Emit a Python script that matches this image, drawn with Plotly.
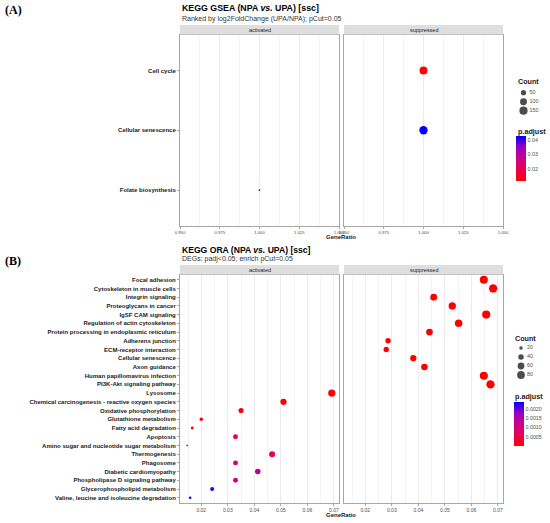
import numpy as np
import plotly.graph_objects as go

# === Donnees (A) KEGG GSEA ===
gsea_terms = ["Cell cycle", "Cellular senescence", "Folate biosynthesis"]
gsea_group = ["suppressed", "suppressed", "activated"]
gsea_ratio = [1.0, 1.0, 1.0]
gsea_count = [140, 155, 10]
gsea_padj = [0.0117, 0.0428, 0.0425]
gsea_count_breaks = [50, 100, 150]
gsea_padj_ticks = [0.02, 0.03, 0.04]

# === Donnees (B) KEGG ORA ===
ora_terms = [
    "Focal adhesion", "Cytoskeleton in muscle cells", "Integrin signaling",
    "Proteoglycans in cancer", "IgSF CAM signaling", "Regulation of actin cytoskeleton",
    "Protein processing in endoplasmic reticulum", "Adherens junction",
    "ECM-receptor interaction", "Cellular senescence", "Axon guidance",
    "Human papillomavirus infection", "PI3K-Akt signaling pathway",
    "Lysosome", "Chemical carcinogenesis - reactive oxygen species",
    "Oxidative phosphorylation", "Glutathione metabolism", "Fatty acid degradation",
    "Apoptosis", "Amino sugar and nucleotide sugar metabolism", "Thermogenesis",
    "Phagosome", "Diabetic cardiomyopathy", "Phospholipase D signaling pathway",
    "Glycerophospholipid metabolism", "Valine, leucine and isoleucine degradation",
]
ora_group = ["suppressed"] * 13 + ["activated"] * 13
ora_ratio = [0.0647, 0.0682, 0.0458, 0.0528, 0.0656, 0.0552, 0.0442, 0.0286, 0.0279,
             0.0381, 0.0423, 0.0647, 0.0672,
             0.0692, 0.0510, 0.0350, 0.0200, 0.0166, 0.0329, 0.0147, 0.0467,
             0.0329, 0.0413, 0.0329, 0.0241, 0.0158]
ora_count = [87, 92, 62, 71, 89, 75, 60, 39, 38, 51, 57, 87, 91,
             69, 51, 35, 20, 17, 33, 15, 47, 33, 41, 33, 24, 16]
ora_padj = [3e-9, 1e-8, 2e-7, 5e-8, 1e-9, 4e-8, 6e-7, 3e-6, 2e-6, 8e-6, 5e-6, 1e-8, 2e-8,
            2e-6, 1e-5, 1.2e-4, 8e-5, 1.5e-4, 5.5e-4, 3e-4, 6e-4,
            9e-4, 1.25e-3, 1.1e-3, 2.2e-3, 2.38e-3]
ora_count_breaks = [20, 40, 60, 80]
ora_padj_ticks = [0.0005, 0.0010, 0.0015, 0.0020]

facets = ["activated", "suppressed"]

# gradient rouge -> bleu (interpolation Lab comme ggplot)
colorscale = [[0, "#FF0000"], [0.25, "#E70050"], [0.5, "#C90089"],
              [0.75, "#9A00C3"], [1, "#0000FF"]]

W, H = 550, 523
def px(v):
    return v / W
def py(v):
    return 1 - v / H

def size_scale(counts, lo, hi, smin=1.8, smax=8.3):
    # equivalent de scale_size (aire) de ggplot
    c = np.asarray(counts, dtype=float)
    return smin + np.sqrt((c - lo) / (hi - lo)) * (smax - smin)

FONT = "Liberation Sans"
GRID = "#EBEBEB"
BORDER = "#A6A6A6"
STRIP_H = 9.5

fig = go.Figure()
layout = dict(width=W, height=H, margin=dict(l=0, r=0, t=0, b=0, autoexpand=False),
              paper_bgcolor="white", plot_bgcolor="white", showlegend=False,
              font=dict(family=FONT, color="#1A1A1A"))
annotations = []
shapes = []

def note(text, x, y, size, color="#1A1A1A", family=None, xanchor="left"):
    f = dict(size=size, color=color)
    if family:
        f["family"] = family
    annotations.append(dict(text=text, x=px(x), y=py(y), xref="paper", yref="paper",
                            xanchor=xanchor, yanchor="middle", showarrow=False, font=f))

def add_block(n0, terms_order, groups, ratios, counts, padj, ca, strip_top, y_bot,
              xr, dtick, minor_dt, tickfmt, xfont):
    lo, hi = min(counts), max(counts)
    sizes = size_scale(counts, lo, hi)
    panels = [(180, 339), (344, 503)]
    cat = terms_order[::-1]
    y_top = strip_top + STRIP_H
    for k, fac in enumerate(facets):
        n = n0 + k
        sx = "" if n == 1 else str(n)
        idx = [i for i, g in enumerate(groups) if g == fac]
        fig.add_trace(go.Scatter(
            x=[ratios[i] for i in idx], y=[terms_order[i] for i in idx],
            mode="markers", xaxis="x" + sx, yaxis="y" + sx,
            marker=dict(size=[sizes[i] for i in idx], color=[padj[i] for i in idx],
                        coloraxis=ca, line=dict(width=0), opacity=1),
            hoverinfo="x+y"))
        l, r = panels[k]
        layout["xaxis" + sx] = dict(domain=[px(l), px(r)], anchor="y" + sx,
                                    range=xr, dtick=dtick, tick0=0, tickformat=tickfmt,
                                    showline=True, mirror=True, linecolor=BORDER, linewidth=1,
                                    ticks="outside", ticklen=2, tickcolor=BORDER, tickwidth=0.6,
                                    tickfont=dict(size=xfont, color="#4D4D4D"),
                                    showgrid=True, gridcolor=GRID, gridwidth=0.8, zeroline=False,
                                    minor=dict(showgrid=True, gridcolor="#F4F4F4", gridwidth=0.5,
                                               dtick=minor_dt, tick0=0),
                                    fixedrange=True)
        ydict = dict(domain=[py(y_bot), py(y_top)], anchor="x" + sx,
                     type="category", categoryorder="array", categoryarray=cat,
                     range=[-0.6, len(cat) - 0.4], showgrid=False, zeroline=False,
                     showline=True, mirror=True, linecolor=BORDER, linewidth=1,
                     fixedrange=True)
        if k == 0:
            ydict.update(ticks="outside", ticklen=2, tickcolor=BORDER, tickwidth=0.6,
                         tickfont=dict(size=6, color="#1A1A1A", weight="bold"))
        else:
            ydict.update(showticklabels=False, ticks="",
                         matches="y" + ("" if n0 == 1 else str(n0)))
        layout["yaxis" + sx] = ydict
        # bandeau de facette
        shapes.append(dict(type="rect", xref="paper", yref="paper",
                           x0=px(l), x1=px(r), y0=py(y_top), y1=py(strip_top),
                           fillcolor="#DEDEDE", line=dict(width=0)))
        note(fac, (l + r) / 2, strip_top + STRIP_H / 2, 5.5, xanchor="center")
    note("<b>GeneRatio</b>", 341.5, y_bot + 11.5, 6, xanchor="center")
    return lo, hi

# --- (A) ---
gsea_lo, gsea_hi = add_block(1, gsea_terms, gsea_group, gsea_ratio, gsea_count, gsea_padj,
                             "coloraxis", 25, 226, [0.95, 1.05], 0.025, 0.0125, ".3f", 4.2)
# --- (B) ---
r_lo, r_hi = min(ora_ratio), max(ora_ratio)
pad = 0.05 * (r_hi - r_lo)
ora_lo, ora_hi = add_block(3, ora_terms, ora_group, ora_ratio, ora_count, ora_padj,
                           "coloraxis2", 265, 503, [r_lo - pad, r_hi + pad], 0.01, 0.005,
                           ".2f", 5.0)

def cbar(ytop, length, ticks, fmt, x):
    return dict(x=px(x), xanchor="left", y=py(ytop), yanchor="top",
                lenmode="pixels", len=length, thicknessmode="pixels", thickness=10,
                outlinewidth=0, xpad=0, ypad=0, tickvals=ticks, tickformat=fmt,
                ticks="", tickfont=dict(size=5.3, color="#4D4D4D"))

layout["coloraxis"] = dict(colorscale=colorscale, cmin=min(gsea_padj), cmax=max(gsea_padj),
                           colorbar=cbar(136, 45, gsea_padj_ticks, ".2f", 516))
layout["coloraxis2"] = dict(colorscale=colorscale, cmin=min(ora_padj), cmax=max(ora_padj),
                            colorbar=cbar(402, 44, ora_padj_ticks, ".4f", 514))

# --- legendes Count (dessinees sur des axes caches) ---
def size_legend(n, breaks, lo, hi, ytop, ybot, xl, title_y):
    labels = [str(b) for b in breaks]
    xa, ya = "x" + str(n), "y" + str(n)
    fig.add_trace(go.Scatter(x=[2] * len(breaks), y=labels, mode="markers",
                             xaxis=xa, yaxis=ya, hoverinfo="skip",
                             marker=dict(size=size_scale(breaks, lo, hi), color="black",
                                         line=dict(width=0))))
    fig.add_trace(go.Scatter(x=[8] * len(breaks), y=labels, mode="text", text=labels,
                             textposition="middle right", xaxis=xa, yaxis=ya, hoverinfo="skip",
                             textfont=dict(size=5.3, color="#4D4D4D")))
    layout["xaxis" + str(n)] = dict(domain=[px(xl + 3), px(xl + 33)], range=[-3, 27],
                                    visible=False, fixedrange=True, anchor=ya)
    layout["yaxis" + str(n)] = dict(domain=[py(ybot), py(ytop)], type="category",
                                    categoryorder="array", categoryarray=labels[::-1],
                                    range=[-0.5, len(labels) - 0.5], visible=False,
                                    fixedrange=True, anchor=xa)
    note("<b>Count</b>", xl, title_y, 7.2)

size_legend(5, gsea_count_breaks, gsea_lo, gsea_hi, 88.2, 115.2, 515.5, 82)
size_legend(6, ora_count_breaks, ora_lo, ora_hi, 343.5, 379.5, 513, 338)

note("<b>p.adjust</b>", 515.5, 131.5, 7.2)
note("<b>p.adjust</b>", 513, 396, 7.2)

# --- titres ---
note("<b>KEGG GSEA (NPA <i>vs.</i> UPA) [ssc]</b>", 180, 8.5, 8.8, color="#000000")
note("Ranked by log2FoldChange (UPA/NPA); pCut=0.05", 180, 18.5, 7, color="#333333")
note("<b>KEGG ORA (NPA <i>vs.</i> UPA) [ssc]</b>", 180, 249.5, 8.6, color="#000000")
note("DEGs: padj<0.05; enrich pCut=0.05", 180, 258.5, 7, color="#333333")
note("<b>(A)</b>", 3, 10, 12, color="#000000", family="Liberation Serif")
note("<b>(B)</b>", 3, 261, 12, color="#000000", family="Liberation Serif")

layout["annotations"] = annotations
layout["shapes"] = shapes
fig.update_layout(**layout)

# pas de marge autour du graphique dans la page, pas de barre d'outils
fig.write_html("out.html", config={"displayModeBar": False},
               post_script="document.body.style.margin='0';")
